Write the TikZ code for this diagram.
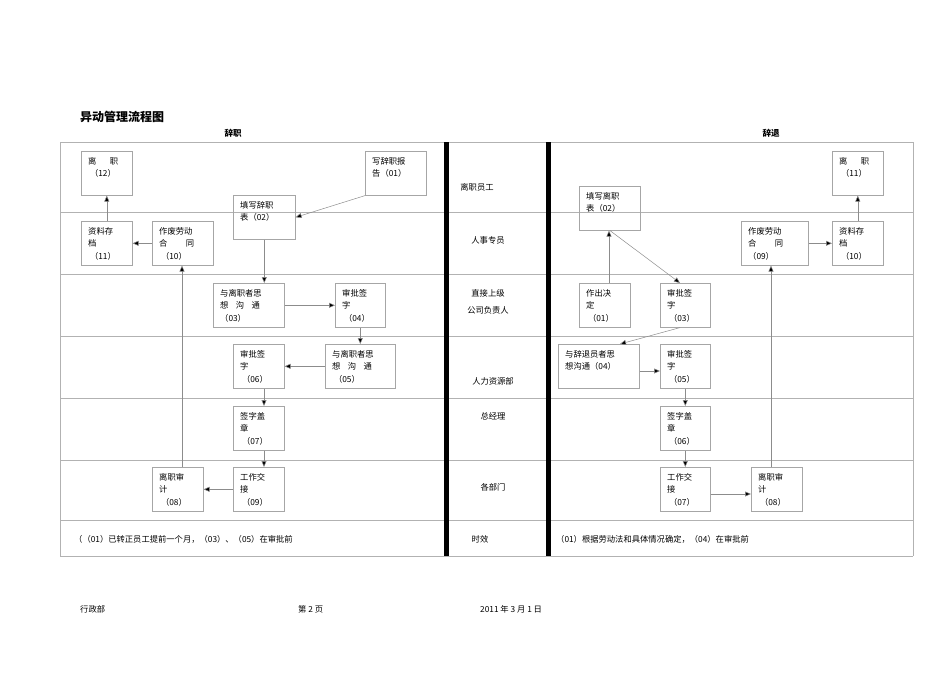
\documentclass[tikz,border=0pt]{standalone}
\usepackage{fontspec}
\setmainfont{Liberation Serif}
\newfontfamily\cjk{Noto Sans CJK SC}
\usetikzlibrary{arrows.meta,calc}
\tikzset{
  bx/.style={draw=black!35, line width=0.6pt, anchor=north west, inner sep=0pt},
  tx/.style={anchor=north west, align=left, inner sep=0pt, font=\cjk\fontsize{8.3}{12.5}\selectfont},
  lab/.style={font=\cjk\fontsize{8.3}{11}\selectfont, inner sep=0pt},
  arr/.style={draw=black!45, line width=0.5pt, -{Triangle[length=6pt,width=5pt,fill=black]}},
  gridl/.style={draw=black!30, line width=0.6pt}
}
\newcommand{\mybox}[6]{%
  \node[bx, minimum width={(#4-#2)*1pt}, minimum height={(#5-#3)*1pt}] (#1) at (#2,#3) {};
  \node[tx] (#1t) at ($(#1.north west)+(7,6)$) {#6};}
\begin{document}
\begin{tikzpicture}[x=1pt,y=-1pt]
\useasboundingbox (0,0) rectangle (950,672);
% title
\node[anchor=west, inner sep=0pt, font=\cjk\bfseries\fontsize{12}{14}\selectfont] (title) at (80,117) {异动管理流程图};
\node[inner sep=0pt, font=\cjk\bfseries\fontsize{8.5}{10}\selectfont] (h1) at (233,133) {辞职};
\node[inner sep=0pt, font=\cjk\bfseries\fontsize{8.5}{10}\selectfont] (h2) at (771,133) {辞退};
% grid
\foreach \y in {142,212,274,336,398,460,520,556} \draw[gridl] (60,\y) -- (913,\y);
\draw[gridl] (60,142) -- (60,556);
\draw[gridl] (913,142) -- (913,556);
\fill (444,142) rectangle (449,556);
\fill (546,142) rectangle (551,556);
% lane labels
\node[lab] (r1) at (477,187) {离职员工};
\node[lab] (r2) at (488,240) {人事专员};
\node[lab] (r3a) at (488,293) {直接上级};
\node[lab] (r3b) at (488,310) {公司负责人};
\node[lab] (r4) at (493,381) {人力资源部};
\node[lab] (r5) at (493,416) {总经理};
\node[lab] (r6) at (493,487) {各部门};
\node[lab] (r7) at (480,539) {时效};
\node[lab, anchor=west] (n1) at (74,539) {（（01）已转正员工提前一个月，（03）、（05）在审批前};
\node[lab, anchor=west] (n2) at (556,539) {（01）根据劳动法和具体情况确定，（04）在审批前};
% left boxes
\mybox{a12}{81}{151}{132}{195}{离\hspace{1.6em}职\\\ （12）}
\mybox{a01}{365}{151}{426}{195}{写辞职报\\告（01）}
\mybox{a02}{233}{195}{295}{239}{填写辞职\\表（02）}
\mybox{a11}{81}{221}{132}{265}{资料存\\档\\\ （11）}
\mybox{a10}{152}{221}{213}{265}{作废劳动\\合\hspace{2.2em}同\\\ （10）}
\mybox{a03}{213}{283}{284}{327}{与离职者思\\想\hspace{0.9em}沟\hspace{0.9em}通\\（03）}
\mybox{a04}{335}{283}{385}{327}{审批签\\字\\\ （04）}
\mybox{a06}{233}{344}{284}{388}{审批签\\字\\\ （06）}
\mybox{a05}{325}{344}{395}{388}{与离职者思\\想\hspace{0.9em}沟\hspace{0.9em}通\\\ （05）}
\mybox{a07}{233}{406}{284}{450}{签字盖\\章\\\ （07）}
\mybox{a08}{152}{467}{203}{511}{离职审\\计\\\ （08）}
\mybox{a09}{233}{467}{284}{511}{工作交\\接\\\ （09）}
% left arrows
\draw[arr] (a01.south west) -- (a02.east);
\draw[arr] (a02.south) -- (a03.north -| a02.south);
\draw[arr] (a03.east) -- (a04.west);
\draw[arr] (a04.south) -- (a05.north -| a04.south);
\draw[arr] (a05.west) -- (a06.east);
\draw[arr] (a06.south -| 264,0) -- (a07.north -| 264,0);
\draw[arr] (a07.south -| 264,0) -- (a09.north -| 264,0);
\draw[arr] (a09.west) -- (a08.east);
\draw[arr] (a08.north -| 182,0) -- (a10.south -| 182,0);
\draw[arr] (a10.west) -- (a11.east);
\draw[arr] (a11.north) -- (a12.south);
% right boxes
\mybox{b02}{579}{186}{640}{230}{填写离职\\表（02）}
\mybox{b11}{832}{151}{883}{195}{离\hspace{1.6em}职\\\ （11）}
\mybox{b09}{741}{221}{808}{265}{作废劳动\\合\hspace{2.2em}同\\（09）}
\mybox{b10}{832}{221}{883}{265}{资料存\\档\\\ （10）}
\mybox{b01}{579}{283}{630}{327}{作出决\\定\\\ （01）}
\mybox{b03}{660}{283}{710}{327}{审批签\\字\\\ （03）}
\mybox{b04}{558}{344}{639}{388}{与辞退员者思\\想沟通（04）}
\mybox{b05}{660}{344}{710}{388}{审批签\\字\\\ （05）}
\mybox{b06}{660}{406}{710}{450}{签字盖\\章\\\ （06）}
\mybox{b07}{660}{467}{710}{511}{工作交\\接\\\ （07）}
\mybox{b08}{751}{467}{802}{511}{离职审\\计\\\ （08）}
% right arrows
\draw[arr] (b01.north -| 609,0) -- (b02.south -| 609,0);
\draw[arr] (b02.south -| 610,0) -- (b03.north -| 680,0);
\draw[arr] (b03.south -| 680,0) -- (b04.north -| 620,0);
\draw[arr] (b04.east |- 0,371) -- (b05.west |- 0,371);
\draw[arr] (b05.south) -- (b06.north);
\draw[arr] (b06.south) -- (b07.north);
\draw[arr] (b07.east |- 0,494) -- (b08.west |- 0,494);
\draw[arr] (b08.north -| 771,0) -- (b09.south -| 771,0);
\draw[arr] (b09.east) -- (b10.west);
\draw[arr] (b10.north) -- (b11.south);
% footer
\node[lab, anchor=west] (f1) at (80,609) {行政部};
\node[lab, anchor=west] (f2) at (298,609) {第 2 页};
\node[lab, anchor=west] (f3) at (480,609) {2011 年 3 月 1 日};
\end{tikzpicture}
\end{document}
